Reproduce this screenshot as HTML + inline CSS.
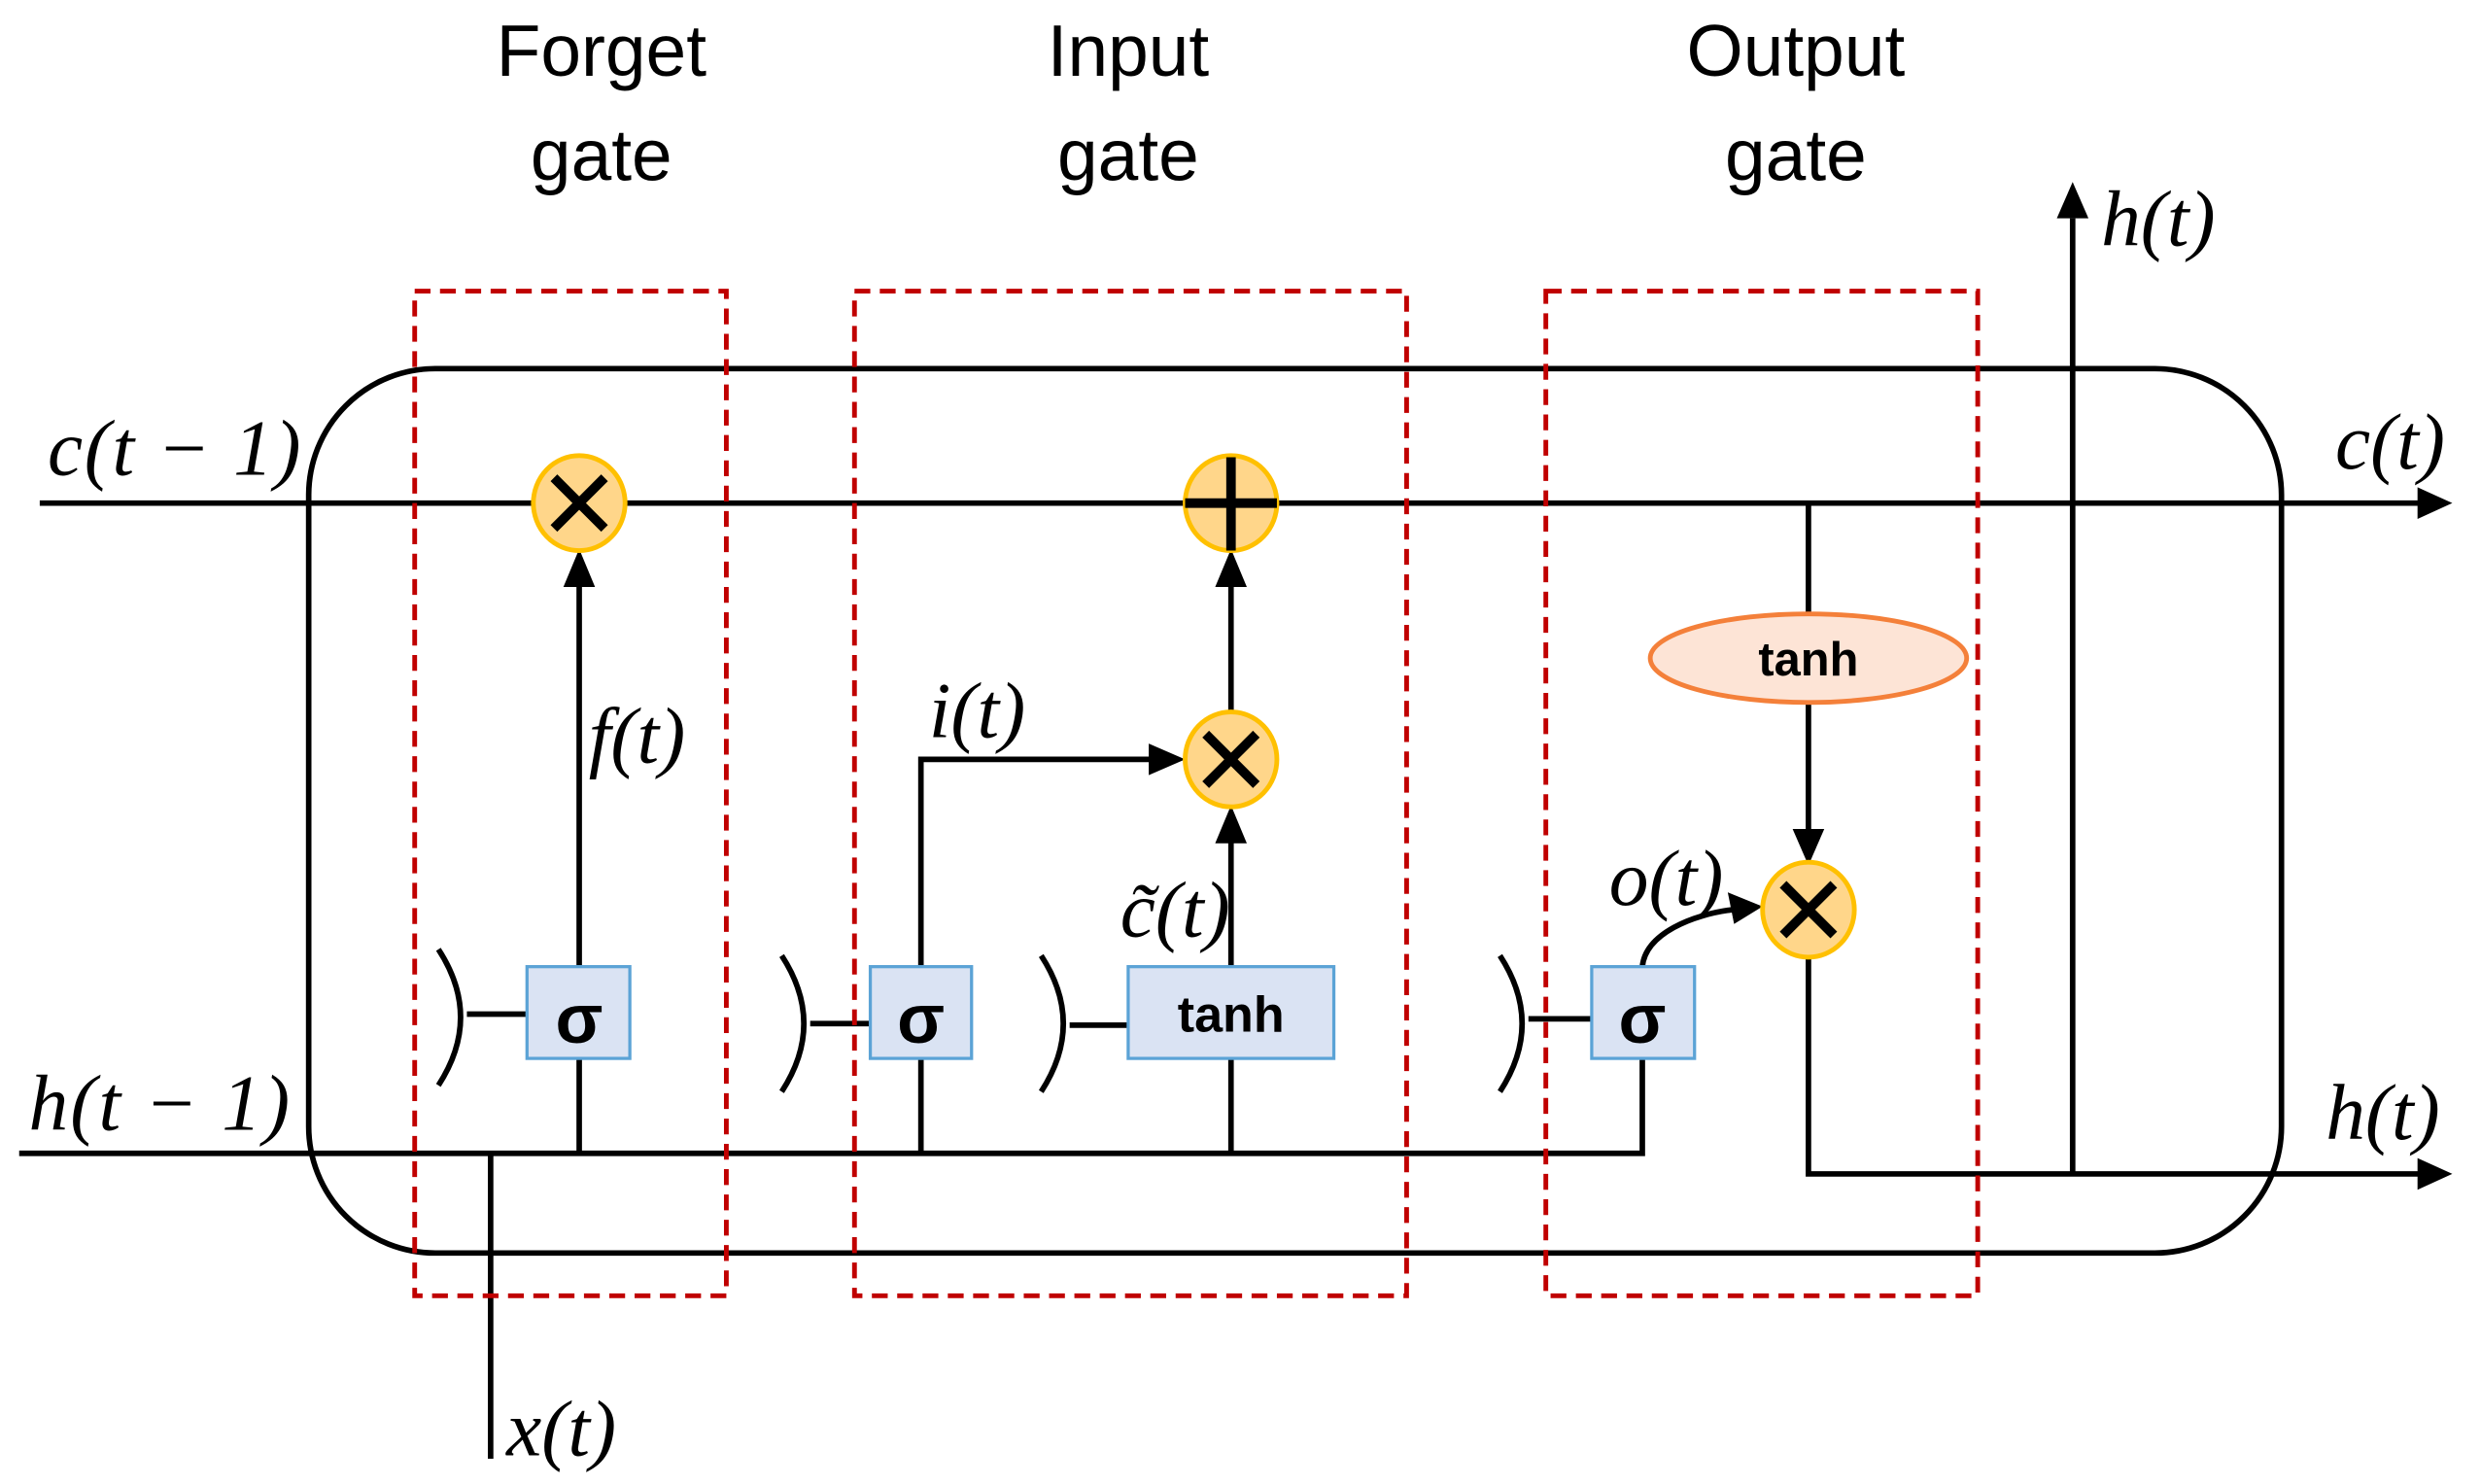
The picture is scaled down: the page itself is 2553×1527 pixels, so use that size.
<!DOCTYPE html>
<html><head><meta charset="utf-8"><style>
html,body{margin:0;padding:0;background:#fff;}
svg{display:block;}
.lbl{font-family:"Liberation Sans",sans-serif;font-size:46px;fill:#000;text-anchor:middle;}
.m{font-family:"Liberation Serif",serif;font-style:italic;font-size:50px;fill:#000;}
.b{font-family:"Liberation Sans",sans-serif;font-weight:bold;fill:#000;text-anchor:middle;}
</style></head><body>
<svg width="2553" height="1527" viewBox="0 0 1568 938" xmlns="http://www.w3.org/2000/svg">
<g fill="none" stroke="#000" stroke-width="3.5">
<rect x="195" y="233" width="1247" height="559" rx="80" ry="80"/>
<line x1="25" y1="318" x2="1530" y2="318"/>
<polyline points="12,729 1038,729 1038,669"/>
<line x1="310" y1="729" x2="310" y2="922"/>
<line x1="366" y1="729" x2="366" y2="669"/>
<line x1="366" y1="611" x2="366" y2="370"/>
<line x1="582" y1="729" x2="582" y2="669"/>
<polyline points="582,611 582,480 728,480"/>
<line x1="778" y1="729" x2="778" y2="669"/>
<line x1="778" y1="611" x2="778" y2="532"/>
<line x1="778" y1="451" x2="778" y2="370"/>
<path d="M1038,611 C1040,590 1070,578 1095,575"/>
<line x1="1143" y1="318" x2="1143" y2="388"/>
<line x1="1143" y1="444" x2="1143" y2="525"/>
<polyline points="1143,604 1143,742 1530,742"/>
<line x1="1310" y1="742" x2="1310" y2="138"/>
<path d="M277,600 Q305,643 277,686"/><line x1="295" y1="641" x2="333" y2="641"/>
<path d="M494,604 Q522,647 494,690"/><line x1="512" y1="647" x2="550" y2="647"/>
<path d="M658,604 Q686,647 658,690"/><line x1="676" y1="648" x2="713" y2="648"/>
<path d="M948,604 Q976,647 948,690"/><line x1="966" y1="644" x2="1006" y2="644"/>
</g>
<g fill="#000">
<polygon points="1550,318 1528,308 1528,328"/>
<polygon points="1550,742 1528,732 1528,752"/>
<polygon points="1310,115 1300,138 1320,138"/>
<polygon points="366,347 356,371 376,371"/>
<polygon points="778,347 768,371 788,371"/>
<polygon points="778,509 768,533 788,533"/>
<polygon points="749,480 726,470 726,490"/>
<polygon points="1143,547 1133,524 1153,524"/>
<polygon points="1114,573 1092,564 1096,584"/>
</g>
<g fill="none" stroke="#c00000" stroke-width="3" stroke-dasharray="10,6">
<rect x="262" y="184" width="197" height="635"/>
<rect x="540" y="184" width="349" height="635"/>
<rect x="977" y="184" width="273" height="635"/>
</g>
<g fill="#ffd68a" stroke="#ffc000" stroke-width="3">
<ellipse cx="366" cy="318" rx="29" ry="30"/>
<ellipse cx="778" cy="318" rx="29" ry="30"/>
<ellipse cx="778" cy="480" rx="29" ry="30"/>
<ellipse cx="1143" cy="575" rx="29" ry="30"/>
</g>
<g stroke="#000" stroke-width="6">
<line x1="350" y1="302" x2="382" y2="334"/><line x1="382" y1="302" x2="350" y2="334"/>
<line x1="762" y1="464" x2="794" y2="496"/><line x1="794" y1="464" x2="762" y2="496"/>
<line x1="1127" y1="559" x2="1159" y2="591"/><line x1="1159" y1="559" x2="1127" y2="591"/>
<line x1="778" y1="289" x2="778" y2="348"/><line x1="749" y1="318" x2="807" y2="318"/>
</g>
<g fill="#dae3f3" stroke="#5ba3d6" stroke-width="2">
<rect x="333" y="611" width="65" height="58"/>
<rect x="550" y="611" width="64" height="58"/>
<rect x="713" y="611" width="130" height="58"/>
<rect x="1006" y="611" width="65" height="58"/>
</g>
<ellipse cx="1143" cy="416" rx="100" ry="28" fill="#fde4d6" stroke="#f4803a" stroke-width="3"/>
<text class="b" x="366" y="659" font-size="44">σ</text>
<text class="b" x="582" y="659" font-size="44">σ</text>
<text class="b" x="1038" y="659" font-size="44">σ</text>
<text class="b" x="778" y="652" font-size="32">tanh</text>
<text class="b" x="1143" y="427" font-size="30">tanh</text>
<text class="lbl" x="380" y="48">Forget</text><text class="lbl" x="380" y="114">gate</text>
<text class="lbl" x="713" y="48">Input</text><text class="lbl" x="713" y="114">gate</text>
<text class="lbl" x="1135" y="48">Output</text><text class="lbl" x="1135" y="114">gate</text>
<text class="m" x="30" y="300" textLength="160">c(t − 1)</text>
<text class="m" x="18" y="714" textLength="165">h(t − 1)</text>
<text class="m" x="1476" y="296">c(t)</text>
<text class="m" x="1470" y="720">h(t)</text>
<text class="m" x="1328" y="155">h(t)</text>
<text class="m" x="320" y="920" font-size="40">x(t)</text>
<text class="m" x="372" y="482" font-size="40">f(t)</text>
<text class="m" x="587" y="466" font-size="40">i(t)</text>
<text class="m" x="708" y="592" font-size="40">c̃(t)</text>
<text class="m" x="1017" y="572" font-size="40">o(t)</text>
</svg>
</body></html>
